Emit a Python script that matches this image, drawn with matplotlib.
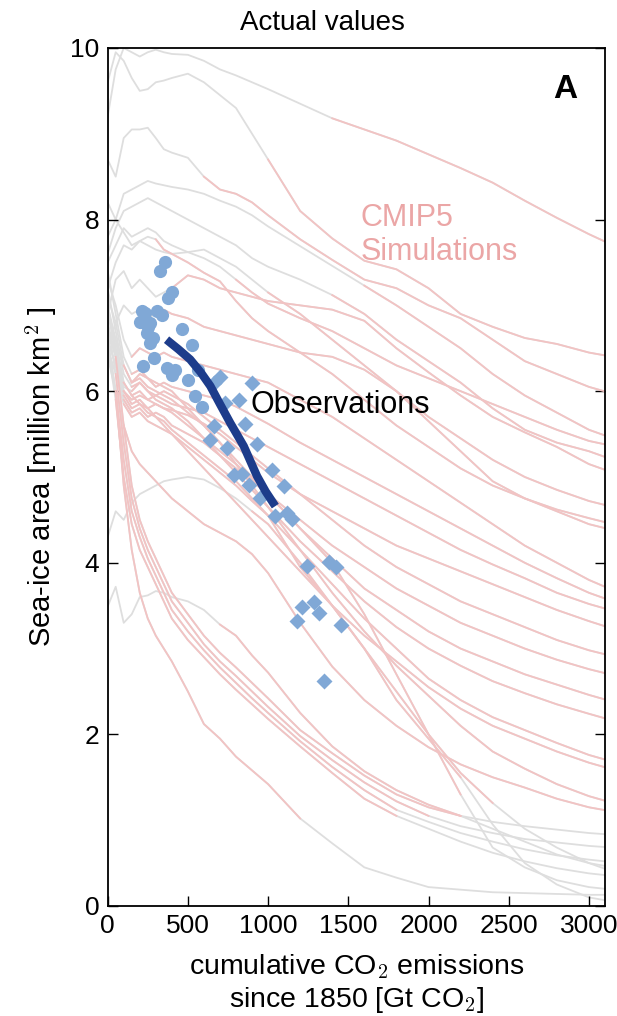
import numpy as np
import matplotlib.pyplot as plt

# cumulative CO2 emissions since 1850 [Gt CO2] at which the model curves were read
emissions = [0, 50, 100, 150, 200, 250, 300, 350, 400, 500, 600, 700, 800, 900,
             1000, 1200, 1400, 1600, 1800, 2000, 2200, 2400, 2600, 2800, 3000, 3150]

# CMIP5 simulated September sea-ice area [million km2], one row per model
sim_ice = [
    [9.2, 9.75, 10.0, 9.95, 9.9, 9.95, 9.98, 9.95, 9.93, 9.92, 9.85, 9.75, 9.68, 9.6, 9.52, 9.35, 9.18, 9.05, 8.92, 8.76, 8.6, 8.43, 8.22, 8.02, 7.83, 7.7],
    [9.6, 9.95, 9.85, 9.65, 9.5, 9.52, 9.6, 9.62, 9.65, 9.7, 9.6, 9.45, 9.3, 9.0, 8.7, 8.1, 7.78, 7.52, 7.42, 7.2, 6.9, 6.75, 6.62, 6.55, 6.45, 6.4],
    [8.7, 8.5, 8.95, 9.05, 9.05, 9.07, 8.95, 8.82, 8.78, 8.72, 8.5, 8.35, 8.3, 8.2, 8.05, 7.77, 7.53, 7.3, 7.2, 7.0, 6.85, 6.6, 6.35, 6.2, 6.05, 5.97],
    [8.2, 8.0, 8.3, 8.35, 8.4, 8.45, 8.42, 8.4, 8.38, 8.35, 8.3, 8.22, 8.15, 8.05, 7.92, 7.69, 7.46, 7.23, 7.0, 6.75, 6.5, 6.2, 5.95, 5.75, 5.55, 5.45],
    [7.6, 7.9, 8.1, 8.15, 8.2, 8.25, 8.2, 8.15, 8.1, 8.0, 7.9, 7.8, 7.7, 7.55, 7.45, 7.3, 7.12, 6.9, 6.6, 6.35, 6.1, 5.8, 5.55, 5.4, 5.3, 5.2],
    [7.5, 7.7, 7.9, 7.8, 7.85, 7.9, 7.85, 7.75, 7.7, 7.62, 7.55, 7.45, 7.3, 7.15, 7.02, 6.85, 6.7, 6.5, 6.3, 6.15, 6.0, 5.85, 5.7, 5.55, 5.42, 5.36],
    [7.2, 7.5, 7.7, 7.65, 7.75, 7.8, 7.77, 7.65, 7.6, 7.5, 7.38, 7.28, 7.05, 6.85, 6.7, 6.45, 6.2, 5.9, 5.6, 5.35, 5.1, 4.9, 4.75, 4.62, 4.52, 4.45],
    [6.9, 7.3, 7.4, 7.2, 7.3, 7.2, 7.1, 7.15, 7.2, 7.35, 7.3, 7.2, 7.15, 7.1, 7.05, 7.0, 6.95, 6.82, 6.5, 6.22, 5.95, 5.7, 5.52, 5.35, 5.15, 5.05],
    [6.5, 6.8, 7.0, 6.9, 6.95, 6.85, 6.9, 6.95, 6.9, 6.85, 6.75, 6.7, 6.65, 6.6, 6.55, 6.45, 6.4, 6.25, 6.0, 5.65, 5.3, 4.95, 4.75, 4.6, 4.45, 4.38],
    [7.8, 8.0, 7.85, 7.7, 7.75, 7.7, 7.65, 7.62, 7.6, 7.62, 7.65, 7.55, 7.45, 7.3, 7.15, 6.9, 6.6, 6.3, 6.0, 5.7, 5.45, 5.2, 5.0, 4.85, 4.72, 4.65],
    [7.3, 7.0, 6.6, 6.4, 6.5, 6.45, 6.4, 6.45, 6.4, 6.35, 6.3, 6.25, 6.2, 6.15, 6.1, 5.9, 5.7, 5.45, 5.2, 4.95, 4.7, 4.45, 4.2, 4.0, 3.8, 3.68],
    [7.1, 6.8, 6.3, 6.1, 6.2, 6.15, 6.05, 6.1, 6.05, 6.0, 5.95, 5.9, 5.82, 5.72, 5.62, 5.4, 5.2, 5.0, 4.8, 4.6, 4.4, 4.2, 4.0, 3.82, 3.65, 3.55],
    [6.9, 6.6, 6.1, 5.95, 6.0, 5.9, 5.95, 5.9, 5.85, 5.8, 5.75, 5.65, 5.55, 5.45, 5.35, 5.15, 4.95, 4.75, 4.55, 4.35, 4.15, 3.98, 3.82, 3.65, 3.52, 3.44],
    [6.7, 6.4, 6.0, 5.85, 5.9, 5.8, 5.85, 5.8, 5.78, 5.72, 5.62, 5.5, 5.35, 5.2, 5.05, 4.8, 4.6, 4.4, 4.2, 4.05, 3.9, 3.75, 3.6, 3.45, 3.32, 3.23],
    [7.0, 6.5, 6.05, 6.0, 6.1, 6.0, 5.95, 6.0, 5.95, 5.85, 5.7, 5.55, 5.4, 5.25, 5.1, 4.8, 4.5, 4.2, 3.95, 3.75, 3.55, 3.4, 3.25, 3.1, 2.98, 2.91],
    [6.6, 6.3, 5.9, 5.75, 5.8, 5.7, 5.75, 5.7, 5.6, 5.5, 5.4, 5.25, 5.1, 4.95, 4.8, 4.5, 4.2, 3.95, 3.7, 3.5, 3.3, 3.15, 3.0, 2.87, 2.76, 2.69],
    [6.8, 6.4, 6.0, 5.9, 5.95, 5.9, 5.85, 5.8, 5.75, 5.6, 5.45, 5.3, 5.15, 4.98, 4.8, 4.4, 4.05, 3.7, 3.45, 3.2, 3.0, 2.85, 2.7, 2.58, 2.46, 2.38],
    [7.2, 6.7, 6.2, 6.05, 6.1, 6.0, 5.9, 5.85, 5.8, 5.65, 5.45, 5.25, 5.05, 4.85, 4.65, 4.25, 3.9, 3.55, 3.25, 3.0, 2.8, 2.62, 2.48, 2.35, 2.24, 2.16],
    [6.5, 6.2, 5.85, 5.7, 5.75, 5.65, 5.6, 5.55, 5.5, 5.35, 5.2, 5.05, 4.9, 4.72, 4.55, 4.15, 3.75, 3.35, 3.0, 2.65, 2.4, 2.2, 2.05, 1.9, 1.76, 1.68],
    [6.9, 6.5, 6.1, 5.95, 5.85, 5.8, 5.7, 5.6, 5.5, 5.3, 5.1, 4.9, 4.7, 4.5, 4.3, 3.9, 3.5, 3.15, 2.85, 2.55, 2.3, 2.1, 1.95, 1.8, 1.67, 1.59],
    [7.4, 6.9, 6.4, 6.2, 6.25, 6.15, 6.1, 6.05, 6.0, 5.8, 5.6, 5.4, 5.15, 4.9, 4.65, 4.15, 3.65, 3.2, 2.8, 2.45, 2.1, 1.8, 1.6, 1.42, 1.28, 1.2],
    [6.4, 6.0, 5.6, 5.3, 5.15, 5.05, 4.95, 4.85, 4.75, 4.6, 4.45, 4.35, 4.25, 4.1, 3.88, 3.3, 2.79, 2.4, 2.1, 1.85, 1.65, 1.5, 1.38, 1.25, 1.15, 1.1],
    [7.0, 6.6, 6.3, 6.1, 6.15, 6.05, 6.0, 5.95, 5.9, 5.75, 5.6, 5.4, 5.2, 5.0, 4.8, 4.4, 4.0, 3.4, 2.7, 2.0, 1.3, 0.68, 0.45, 0.3, 0.22, 0.19],
    [6.6, 6.3, 5.95, 5.8, 5.85, 5.75, 5.7, 5.65, 5.55, 5.4, 5.25, 5.1, 4.95, 4.75, 4.55, 3.95, 3.5, 3.0, 2.4, 1.95, 1.5, 0.95, 0.5, 0.25, 0.1, 0.05],
    [7.0, 6.4, 5.6, 4.9, 4.5, 4.25, 4.05, 3.85, 3.65, 3.4, 3.15, 2.95, 2.78, 2.6, 2.42, 2.05, 1.78, 1.52, 1.3, 1.15, 1.05, 0.98, 0.93, 0.89, 0.85, 0.83],
    [6.8, 6.2, 5.4, 4.75, 4.4, 4.15, 3.95, 3.75, 3.55, 3.3, 3.05, 2.85, 2.68, 2.5, 2.32, 1.98, 1.7, 1.44, 1.22, 1.05, 0.93, 0.85, 0.78, 0.74, 0.7, 0.68],
    [6.6, 6.0, 5.2, 4.6, 4.3, 4.05, 3.85, 3.65, 3.45, 3.2, 2.98, 2.78, 2.6, 2.42, 2.25, 1.92, 1.62, 1.35, 1.12, 0.98, 0.85, 0.75, 0.66, 0.59, 0.54, 0.51],
    [6.5, 5.9, 5.0, 4.45, 4.15, 3.95, 3.75, 3.55, 3.35, 3.1, 2.9, 2.7, 2.52, 2.35, 2.18, 1.86, 1.55, 1.25, 1.05, 0.9, 0.75, 0.62, 0.52, 0.44, 0.38, 0.35],
    [3.49, 3.72, 3.3, 3.4, 3.6, 3.62, 3.67, 3.65, 3.6, 3.55, 3.45, 3.28, 3.15, 2.92, 2.72, 2.25, 1.86, 1.57, 1.35, 1.18, 1.05, 0.9, 0.75, 0.6, 0.5, 0.45],
    [4.3, 4.6, 4.5, 4.7, 4.8, 4.85, 4.9, 4.95, 4.97, 5.0, 4.97, 4.87, 4.75, 4.6, 4.45, 4.0, 3.5, 3.0, 2.5, 2.0, 1.55, 1.2, 0.9, 0.68, 0.5, 0.4],
    [6.6, 6.0, 4.9, 4.15, 3.65, 3.35, 3.15, 3.0, 2.85, 2.5, 2.12, 1.95, 1.74, 1.58, 1.42, 1.02, 0.73, 0.45, 0.33, 0.22, 0.19, 0.16, 0.15, 0.14, 0.13, 0.13],
]
# emissions from which each model curve is drawn in red (before: grey)
sim_red_from = [1400, 1000, 600, 1600, 1400, 800, 300, 400, 300, 1000,
                150, 100, 100, 100, 150, 100, 100, 150, 100, 150, 150, 100,
                150, 100, 50, 50, 50, 50, 700, 900, 50]

# observations
circle_x = [358, 327, 400, 379, 233, 306, 337, 202, 264, 244, 285, 264, 462, 525,
            288, 223, 367, 421, 400, 502, 546, 587, 566, 215, 250]
circle_y = [7.51, 7.40, 7.16, 7.09, 6.91, 6.93, 6.89, 6.81, 6.80, 6.68, 6.62, 6.56, 6.72, 6.54,
            6.39, 6.29, 6.27, 6.25, 6.19, 6.13, 5.94, 5.82, 6.25, 6.93, 6.75]
diamond_x = [660, 702, 900, 733, 816, 660, 858, 640, 744, 931, 785, 837, 1023, 879,
             1098, 952, 1046, 1150, 1119, 1244, 1379, 1421, 1212, 1285, 1316, 1181, 1452, 1348]
diamond_y = [6.10, 6.17, 6.10, 5.86, 5.90, 5.59, 5.62, 5.43, 5.34, 5.38, 5.02, 5.04, 5.08, 4.91,
             4.89, 4.75, 4.55, 4.51, 4.58, 3.96, 4.01, 3.95, 3.49, 3.54, 3.42, 3.32, 3.28, 2.62]
trend_x = [367, 440, 514, 580, 640, 700, 764, 848, 931, 985, 1045]
trend_y = [6.60, 6.49, 6.37, 6.22, 6.06, 5.85, 5.63, 5.36, 5.01, 4.83, 4.66]

GREY = "#dedede"
RED = "#f2c3c3"
RED_TEXT = "#eba6a6"
BLUE = "#80a8d6"
NAVY = "#1d3c8b"

plt.rcParams["font.family"] = ["Liberation Sans", "DejaVu Sans"]
plt.rcParams["mathtext.fontset"] = "cm"

fig = plt.figure(figsize=(6.17, 10.16), dpi=100)
ax = fig.add_axes([0.1745, 0.1083, 0.806, 0.8445])

x = np.array(emissions, dtype=float)
for ice in sim_ice:
    ax.plot(x, ice, color=GREY, lw=1.3, zorder=1)
for ice, start in zip(sim_ice, sim_red_from):
    y = np.array(ice, dtype=float)
    red = np.where((x >= start) & (y >= 1.0), y, np.nan)
    ax.plot(x, red, color=RED, lw=1.3, zorder=2)

ax.plot(circle_x, circle_y, "o", ms=9.5, color=BLUE, mec="none", zorder=3)
ax.plot(diamond_x, diamond_y, "D", ms=8.5, color=BLUE, mec="none", zorder=3)
ax.plot(trend_x, trend_y, color=NAVY, lw=6, solid_capstyle="butt", zorder=4)

ax.text(890, 5.84, "Observations", fontsize=22, va="center", ha="left", zorder=5)
ax.text(1575, 7.82, "CMIP5\nSimulations", fontsize=22, color=RED_TEXT,
        va="center", ha="left", linespacing=1.2, zorder=5)
ax.text(2850, 9.51, "A", fontsize=24, fontweight="bold", ha="center", va="center")

ax.set_xlim(0, 3100)
ax.set_ylim(0, 10)
ax.set_xticks(range(0, 3001, 500))
ax.set_yticks(range(0, 11, 2))
ax.tick_params(direction="in", length=7, width=1, labelsize=19, right=True, top=False, pad=6)
for s in ax.spines.values():
    s.set_linewidth(1.3)

fig.text(0.522, 0.977, "Actual values", fontsize=20, ha="center", va="center")
ax.set_xlabel("cumulative CO$_2$ emissions\nsince 1850 [Gt CO$_2$]", fontsize=20.5, labelpad=10)
ax.set_ylabel("Sea-ice area [million km$^2$ ]", fontsize=21, labelpad=8)

fig.savefig("out.png", dpi=100)
